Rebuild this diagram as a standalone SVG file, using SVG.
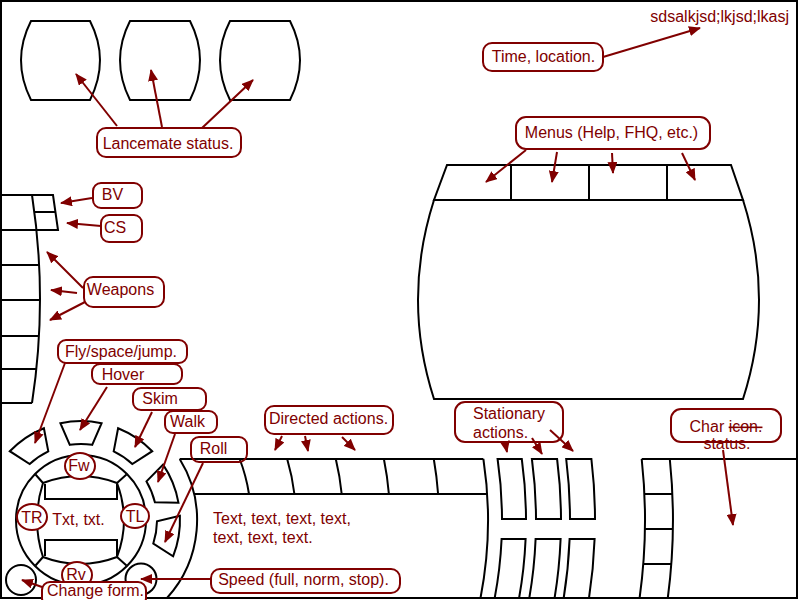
<svg xmlns="http://www.w3.org/2000/svg" width="798" height="600" viewBox="0 0 798 600">
<style>
.k{fill:none;stroke:#000;stroke-width:2}
.lb{fill:none;stroke:#800000;stroke-width:2}
.lc{fill:#fff;stroke:#800000;stroke-width:2}
.t{font-family:"Liberation Sans",Arial,sans-serif;font-size:16px;fill:#800000}
.m{text-anchor:middle}
.ar{fill:none;stroke:#800000;stroke-width:2;marker-end:url(#ah)}
</style>
<defs>
<marker id="ah" viewBox="0 0 12 10" refX="11" refY="5" markerWidth="12" markerHeight="10" markerUnits="userSpaceOnUse" orient="auto">
<path d="M0,0 L12,5 L0,10 z" fill="#800000"/>
</marker>
</defs>
<rect x="0" y="0" width="798" height="600" fill="#fff"/>
<rect class="k" x="1" y="1" width="796" height="597"/>

<g id="lancemates">
<path class="k" d="M31,21 L90,21 Q110,60 90,100 L31,100 Q11,60 31,21 Z"/>
<path class="k" d="M130,21 L190,21 Q210,60 190,100 L130,100 Q110,60 130,21 Z"/>
<path class="k" d="M230,21 L290,21 Q310,60 290,100 L230,100 Q210,60 230,21 Z"/>
</g>

<g id="screen">
<path class="k" d="M447,165 L731,165 L743,200 L434,200 Z"/>
<path class="k" d="M511,165 V200 M589,165 V200 M667,165 V200"/>
<path class="k" d="M434,200 L743,200 Q775,300 743,399 L434,399 Q402,300 434,200 Z"/>
</g>

<g id="weapons-panel">
<path class="k" d="M32,195 Q48,299 32,403"/>
<path class="k" d="M2,195 H53 L58,230 H2 M34.4,212 H55.5 M2,265 H39.1 M2,300 H40 M2,336 H39 M2,369 H36.4 M2,403 H32"/>
</g>

<g id="wheel">
<circle class="k" cx="81" cy="520" r="65"/>
<path class="k" d="M43,483 Q80,469 117,483 Q131,520 117,557 Q80,571 43,557 Q31,520 43,483 Z"/>
<path class="k" d="M45,484 V499 H117 V484 M45,556 V540 H117 V556"/>
<path class="k" d="M35.5,474.5 L43,483 M126.5,474.5 L117,483 M35.5,565.5 L43,557 M126.5,565.5 L117,557"/>
<path class="k" d="M9.8,451.2 A99,99 0 0 1 43.9,428.2 L48.3,451.4 A76,76 0 0 0 29.7,464 Z"/>
<path class="k" d="M60.4,423.2 A99,99 0 0 1 101.6,423.2 L92.2,444.8 A76,76 0 0 0 69.8,444.8 Z"/>
<path class="k" d="M118.1,428.2 A99,99 0 0 1 152.2,451.2 L132.3,464 A76,76 0 0 0 113.7,451.4 Z"/>
<path class="k" d="M163.1,464.6 A99,99 0 0 1 178.5,502.8 L154.9,502.3 A76,76 0 0 0 146.5,481.4 Z"/>
<path class="k" d="M179.9,515.7 A99,99 0 0 1 173.1,556.3 L153.3,543.5 A76,76 0 0 0 157,521.3 Z"/>
<circle class="k" cx="21" cy="580" r="15"/>
<circle class="k" cx="141" cy="579" r="15.5"/>
<ellipse class="lc" cx="80" cy="466" rx="15" ry="13"/>
<ellipse class="lc" cx="32" cy="517" rx="15" ry="13"/>
<ellipse class="lc" cx="135" cy="516" rx="14" ry="12"/>
<ellipse class="lc" cx="77" cy="575" rx="15" ry="13"/>
<text class="t m" x="79" y="471">Fw</text>
<text class="t m" x="32" y="523">TR</text>
<text class="t m" x="135" y="522">TL</text>
<text class="t m" x="76" y="580">Rv</text>
<text class="t m" x="78.5" y="525">Txt, txt.</text>
</g>

<g id="action-panel">
<path class="k" d="M179.7,459 A116,116 0 0 1 167,598"/>
<path class="k" d="M179.7,459 H483.4 M194,494 H487.2"/>
<path class="k" d="M239.7,459 A170,170 0 0 1 249,494 M287.2,459 A215,215 0 0 1 294.4,494 M335.8,459 A262,262 0 0 1 341.7,494 M383.9,459 A309,309 0 0 1 388.9,494 M433.8,459 A358,358 0 0 1 438.1,494"/>
<path class="k" d="M483.4,459 A407,407 0 0 1 480.5,598"/>
<text class="t" x="213" y="524">Text, text, text, text,</text>
<text class="t" x="213" y="543">text, text, text.</text>
</g>

<g id="stationary-actions">
<path class="k" d="M497.6,459 A421,421 0 0 1 502,519 H526 A445,445 0 0 0 521.8,459 Z"/>
<path class="k" d="M531.9,459 A455,455 0 0 1 536,519 H561 A480,480 0 0 0 557.1,459 Z"/>
<path class="k" d="M566.2,459 A489,489 0 0 1 570,519 H595 A514,514 0 0 0 591.4,459 Z"/>
<path class="k" d="M494.7,598 A421,421 0 0 0 501.6,539 H525.6 A445,445 0 0 1 519.1,598"/>
<path class="k" d="M529.3,598 A455,455 0 0 0 535.6,539 H560.6 A480,480 0 0 1 554.6,598"/>
<path class="k" d="M563.7,598 A489,489 0 0 0 569.6,539 H594.6 A514,514 0 0 1 589,598"/>
</g>

<g id="char-panel">
<path class="k" d="M641.7,459 A564,564 0 0 1 639.6,598 M669.8,459 A592,592 0 0 1 667.8,598"/>
<path class="k" d="M641.7,459 H797 M644.4,494 H672.4 M644.9,529 H672.9 M643.3,564 H671.4"/>
</g>

<g id="connectors">
<path class="ar" d="M117,126 L76,74"/>
<path class="ar" d="M162,127 L151,70"/>
<path class="ar" d="M202,128 L253,80"/>
<path class="ar" d="M603,57 L700,28"/>
<path class="ar" d="M526,150 L486,182"/>
<path class="ar" d="M557,152 L552,182"/>
<path class="ar" d="M612,153 L613,173"/>
<path class="ar" d="M682,153 L695,180"/>
<path class="ar" d="M92,198 L61,203"/>
<path class="ar" d="M101,226 L67,223"/>
<path class="ar" d="M83,288 L47,252"/>
<path class="ar" d="M77,293 L51,290"/>
<path class="ar" d="M85,302 L50,320"/>
<path class="ar" d="M65,363 L35,443"/>
<path class="ar" d="M107,387 L80,430"/>
<path class="ar" d="M152,412 L135,447"/>
<path class="ar" d="M175,434 L158,482"/>
<path class="ar" d="M203,463 L165,542"/>
<path class="ar" d="M42,587 L22,580"/>
<path class="ar" d="M211,579 L141,579"/>
<path class="ar" d="M282,436 L275,450"/>
<path class="ar" d="M305,436 L308,451"/>
<path class="ar" d="M342,437 L355,450"/>
<path class="ar" d="M505,442 L507,452"/>
<path class="ar" d="M532,438 L542,454"/>
<path class="ar" d="M550,430 L573,451"/>
<path class="ar" d="M723,450 L733,525"/>
</g>

<g id="label-lancemate"><rect class="lb" x="97" y="128" width="144" height="29" rx="9"/><text class="t m" x="168" y="149">Lancemate status.</text></g>
<g id="label-sds"><text class="t" x="789" y="22" text-anchor="end">sdsalkjsd;lkjsd;lkasj</text></g>
<g id="label-time"><rect class="lb" x="483" y="43" width="120" height="28" rx="9"/><text class="t m" x="543.5" y="62">Time, location.</text></g>
<g id="label-menus"><rect class="lb" x="516" y="117" width="194" height="32" rx="10"/><text class="t m" x="611.5" y="138">Menus (Help, FHQ, etc.)</text></g>
<g id="label-bv"><rect class="lb" x="93" y="183" width="49" height="25" rx="8"/><text class="t m" x="112.5" y="200">BV</text></g>
<g id="label-cs"><rect class="lb" x="101" y="215" width="41" height="27" rx="8"/><text class="t m" x="115" y="233">CS</text></g>
<g id="label-weapons"><rect class="lb" x="84" y="277" width="80" height="30" rx="9"/><text class="t m" x="120.5" y="295">Weapons</text></g>
<g id="label-fly"><rect class="lb" x="58" y="340" width="129" height="23" rx="8"/><text class="t m" x="121" y="357">Fly/space/jump.</text></g>
<g id="label-hover"><rect class="lb" x="92" y="364" width="90" height="20" rx="8"/><text class="t m" x="123" y="380">Hover</text></g>
<g id="label-skim"><rect class="lb" x="133" y="388" width="73" height="22" rx="8"/><text class="t m" x="160" y="404">Skim</text></g>
<g id="label-walk"><rect class="lb" x="165" y="411" width="52" height="22" rx="8"/><text class="t m" x="187.5" y="427">Walk</text></g>
<g id="label-roll"><rect class="lb" x="191" y="437" width="56" height="25" rx="8"/><text class="t m" x="213.5" y="454">Roll</text></g>
<g id="label-change"><rect class="lc" x="42" y="582" width="104" height="24" rx="8"/><text class="t m" x="95.5" y="596">Change form.</text></g>
<g id="label-speed"><rect class="lb" x="211" y="569" width="189" height="24" rx="9"/><text class="t m" x="303.5" y="585">Speed (full, norm, stop).</text></g>
<g id="label-directed"><rect class="lb" x="265" y="406" width="128" height="28" rx="9"/><text class="t m" x="328.5" y="424">Directed actions.</text></g>
<g id="label-stationary"><rect class="lb" x="455" y="402" width="108" height="40" rx="10"/><text class="t" x="473" y="419">Stationary</text><text class="t" x="473" y="438">actions.</text></g>
<g id="label-char"><rect class="lb" x="671" y="409" width="110" height="33" rx="10"/><text class="t m" x="726" y="432">Char <tspan style="text-decoration:line-through">icon.</tspan></text><text class="t m" x="727" y="449">status.</text></g>
</svg>
